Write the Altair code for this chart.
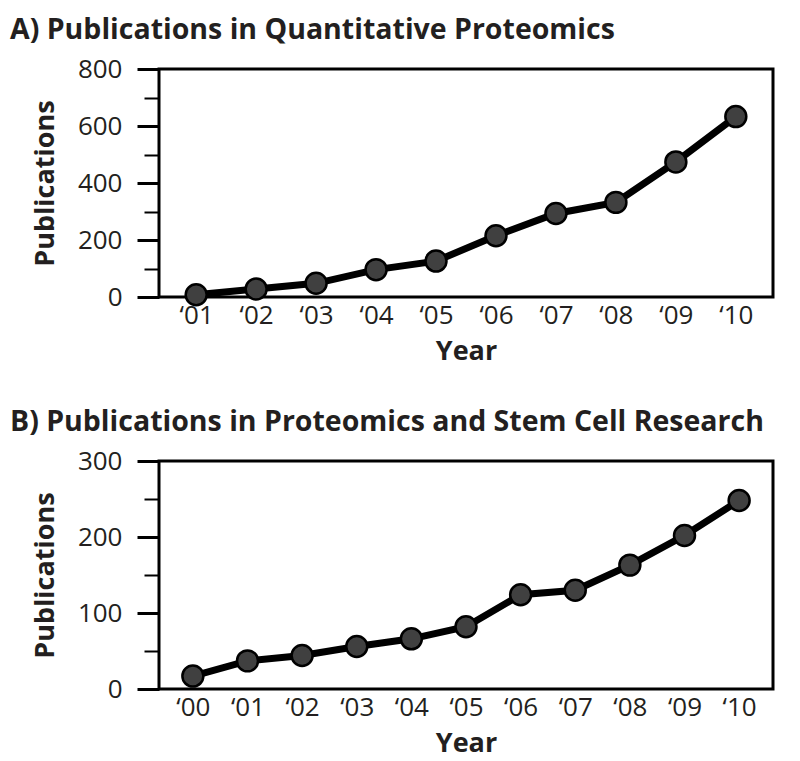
import altair as alt
import pandas as pd

# Panel A data
years_a = ["\u201801", "\u201802", "\u201803", "\u201804", "\u201805",
           "\u201806", "\u201807", "\u201808", "\u201809", "\u201810"]
pubs_a = [8, 28, 48, 96, 126, 215, 293, 332, 474, 633]

# Panel B data
years_b = ["\u201800", "\u201801", "\u201802", "\u201803", "\u201804", "\u201805",
           "\u201806", "\u201807", "\u201808", "\u201809", "\u201810"]
pubs_b = [17, 37, 44, 56, 66, 82, 124, 130, 163, 202, 248]

title_a = "A) Publications in Quantitative Proteomics"
title_b = "B) Publications in Proteomics and Stem Cell Research"

major_a = [0, 200, 400, 600, 800]
minor_a = [100, 300, 500, 700]
major_b = [0, 100, 200, 300]
minor_b = [50, 150, 250]

FONT = "Open Sans"
TXT = "#231f20"


def panel(years, pubs, title, ymax, major, minor):
    df = pd.DataFrame({"Year": years, "Publications": pubs})
    xenc = alt.X("Year:O", sort=None,
                 scale=alt.Scale(type="point", padding=0.62),
                 axis=alt.Axis(title="Year", ticks=False, domain=False,
                               labelAngle=0, labelPadding=5, titlePadding=10))
    yscale = alt.Scale(domain=[0, ymax], nice=False)
    line = alt.Chart(df).mark_line(color="#000000", strokeWidth=7).encode(
        x=xenc,
        y=alt.Y("Publications:Q", scale=yscale,
                axis=alt.Axis(values=major, tickSize=22, tickWidth=3,
                              tickColor="#000000", domain=False,
                              labelPadding=15, title="Publications",
                              titlePadding=18, orient="left")),
    )
    pts = alt.Chart(df).mark_point(
        filled=True, fill="#404040", stroke="#000000", strokeWidth=2.5,
        size=440, opacity=1, shape="circle"
    ).encode(
        x=xenc,
        y=alt.Y("Publications:Q", scale=yscale,
                axis=alt.Axis(values=minor, tickSize=15, tickWidth=2,
                              tickColor="#000000", domain=False,
                              labels=False, title=None, orient="left")),
    )
    return alt.layer(line, pts).resolve_axis(y="independent").properties(
        width=614, height=228,
        title=alt.TitleParams(title, anchor="start", frame="group",
                              dx=-149, offset=12, fontSize=28.5,
                              font=FONT, fontWeight="bold", color=TXT),
    )


chart = alt.vconcat(
    panel(years_a, pubs_a, title_a, 800, major_a, minor_a),
    panel(years_b, pubs_b, title_b, 300, major_b, minor_b),
    spacing=40,
).configure_view(
    stroke="#000000", strokeWidth=3
).configure_axis(
    labelFont=FONT, labelFontSize=26, labelColor=TXT,
    titleFont=FONT, titleFontSize=27, titleFontWeight="bold", titleColor=TXT,
    grid=False,
).properties(padding={"left": 0, "top": 6, "right": 5, "bottom": 0})

chart.save("out.html", embed_options={"renderer": "svg", "actions": False})
